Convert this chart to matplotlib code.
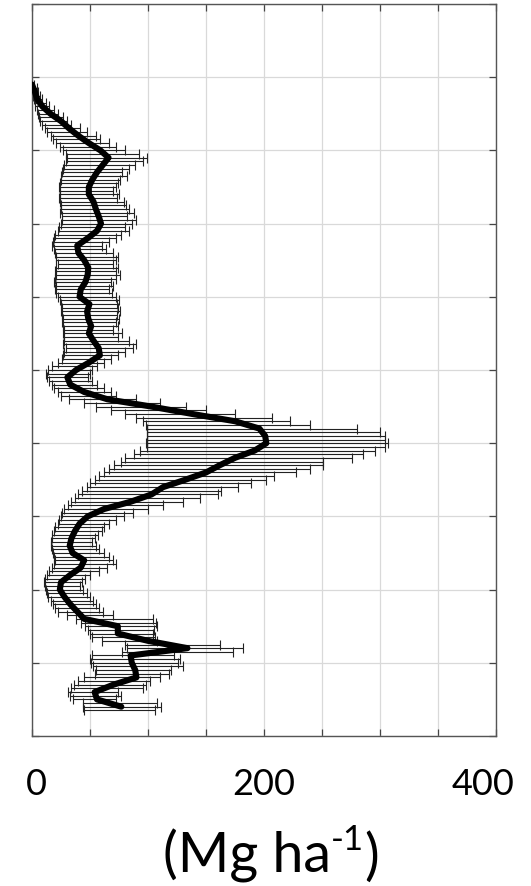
import numpy as np
import matplotlib
matplotlib.use("Agg")
import matplotlib.pyplot as plt
from matplotlib.transforms import ScaledTranslation

plt.rcParams["font.family"] = ["Lato", "DejaVu Sans"]

# depth of each sample (grid units, 10 per grid row), error bars every 0.5
bar_depth = np.arange(11.0, 96.6, 0.5)
bar_lo = [
    0, 0, 0.5, 1, 2, 3, 3, 4, 5, 6,
    7, 9, 11, 13, 16, 18, 21, 24, 27, 29,
    30, 29, 28, 27, 26, 25, 25, 24, 23, 24,
    24, 23, 24, 25, 25, 24, 26, 26, 25, 23,
    22, 20, 19, 18, 17, 19, 20, 21, 21, 22,
    21, 20, 21, 20, 19, 21, 20, 21, 22, 24,
    25, 26, 25, 26, 27, 26, 27, 28, 27, 28,
    28, 27, 29, 28, 27, 26, 22, 17, 14, 12,
    13, 15, 17, 19, 22, 25, 32, 45, 55, 68,
    80, 90, 96, 98, 99, 99, 99, 99, 98, 99,
    93, 88, 80, 77, 71, 66, 62, 58, 54, 50,
    47, 43, 40, 37, 34, 31, 28, 26, 25, 23,
    22, 20, 19, 17, 17, 16, 16, 17, 18, 19,
    20, 19, 17, 15, 13, 11, 10, 11, 12, 13,
    14, 16, 18, 20, 22, 30, 38, 42, 46, 48,
    50, 52, 60, 80, 82, 78, 52, 50, 51, 53,
    55, 54, 45, 40, 36, 34, 31, 33, 35, 44,
    44, 45,
]
bar_hi = [
    2, 4, 5, 7, 9, 12, 15, 19, 22, 27,
    30, 34, 41, 47, 55, 59, 66, 72, 80, 92,
    99, 96, 89, 84, 78, 82, 76, 74, 72, 70,
    75, 73, 79, 81, 84, 88, 82, 90, 86, 80,
    84, 77, 72, 66, 60, 64, 70, 74, 72, 70,
    74, 72, 76, 72, 68, 70, 66, 69, 72, 75,
    73, 74, 76, 73, 75, 72, 74, 70, 78, 74,
    84, 90, 87, 80, 74, 68, 62, 56, 52, 50,
    48, 52, 56, 62, 68, 72, 90, 110, 133, 150,
    175, 207, 222, 240, 280, 300, 304, 304, 307, 304,
    296, 285, 276, 251, 251, 240, 228, 209, 202, 189,
    178, 163, 160, 145, 130, 113, 100, 87, 79, 72,
    66, 62, 60, 57, 54, 52, 55, 58, 62, 66,
    70, 72, 65, 58, 50, 46, 43, 41, 44, 47,
    50, 53, 55, 58, 61, 70, 104, 107, 108, 105,
    104, 106, 108, 162, 182, 173, 122, 128, 126, 130,
    120, 118, 110, 102, 98, 96, 74, 77, 72, 108,
    111, 106,
]

# smoothed profile (Mg ha-1)
line_depth = np.arange(11, 97)
line_val = [
    0, 2.5, 4.5, 9, 16, 25, 32, 40, 49, 59,
    66, 61, 56, 52, 49, 49, 53, 55, 57.5, 59.5,
    56, 48, 39, 40, 45, 48.5, 48, 46, 42, 41,
    49.5, 47.5, 48.5, 51, 49, 53, 57.5, 58.5, 49, 38,
    30.5, 33, 45, 65, 103, 138, 175, 196, 201, 202,
    192, 175, 162, 150, 132, 113, 103, 85, 62, 48,
    41, 37, 34, 32.5, 35, 45, 42, 33, 25, 24,
    28, 33, 39, 45, 74, 74, 100, 134, 85, 86,
    89, 90, 70, 54, 56, 77,
]

x_ticks = [0, 50, 100, 150, 200, 250, 300, 350, 400]
x_labels = ["0", "", "", "", "200", "", "", "", "400"]

lo = np.array(bar_lo, dtype=float)
hi = np.array(bar_hi, dtype=float)
mid = (lo + hi) / 2
half = (hi - lo) / 2

fig = plt.figure(figsize=(5.31, 8.87), dpi=100)
ax = fig.add_axes([32 / 531, 1 - 737 / 887, 464 / 531, 732 / 887])

ax.errorbar(mid, bar_depth, xerr=half, fmt="none", ecolor="#222222",
            elinewidth=0.8, capsize=3.6, capthick=0.8, zorder=2)
ax.plot(line_val, line_depth, color="black", lw=4.4,
        solid_capstyle="round", solid_joinstyle="round", zorder=3)

ax.set_xlim(0, 400)
ax.set_ylim(100, 0)
ax.set_xticks(x_ticks)
ax.set_xticklabels(x_labels, fontsize=26)
ax.set_yticks(np.arange(0, 101, 10))
ax.set_yticklabels([])
ax.tick_params(direction="in", length=5, width=0.9, color="#444444",
               top=True, right=True, pad=22)
ax.grid(True, color="#d9d9d9", lw=0.9)
ax.set_axisbelow(True)
for s in ax.spines.values():
    s.set_color("#555555")
    s.set_linewidth(1.0)

# nudge end labels like the original
shifts = {"0": 4, "400": -13}
for lab in ax.get_xticklabels():
    dx = shifts.get(lab.get_text(), 0)
    if dx:
        lab.set_transform(lab.get_transform() +
                          ScaledTranslation(dx / 100, 0, fig.dpi_scale_trans))

# unit label built from pieces so the superscript keeps a short hyphen
t1 = fig.text(163 / 531, 1 - 873 / 887, "(Mg ha", fontsize=40,
              ha="left", va="baseline")
t2 = ax.annotate("-1", xy=(1, 0.5), xycoords=t1, fontsize=25,
                 ha="left", va="bottom", annotation_clip=False)
t3 = ax.annotate(")", xy=(1, 0), xycoords=(t2, t1), fontsize=40,
                 ha="left", va="bottom", annotation_clip=False)

fig.savefig("out.png", dpi=100)
plt.close()
